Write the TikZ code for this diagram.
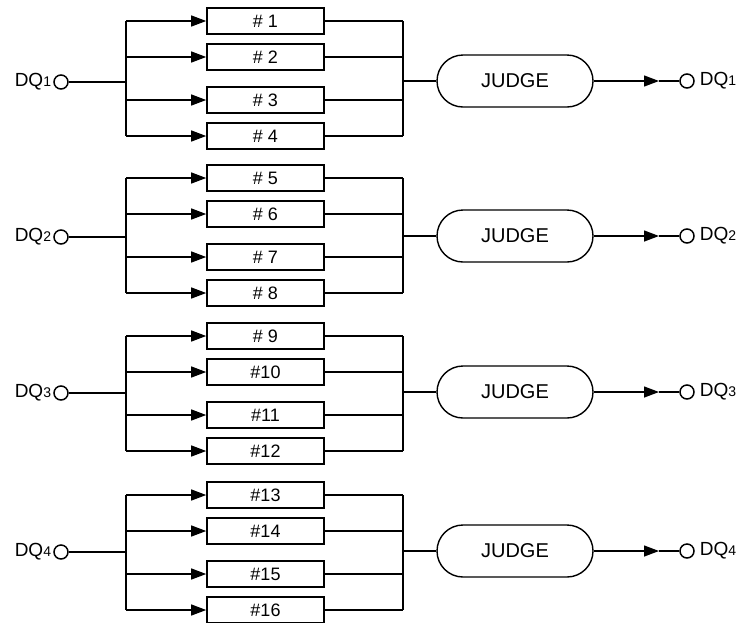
\documentclass[tikz,border=0pt]{standalone}
\usepackage{fontspec}
\setmainfont{Liberation Sans}
\usetikzlibrary{arrows.meta,shapes.misc}
\tikzset{
  unitbox/.style={draw, line width=1.6pt, minimum width=117pt, minimum height=26pt, inner sep=0pt, font=\fontsize{18}{18}\selectfont},
  judgebox/.style={draw, rounded rectangle, line width=1.4pt, minimum width=156pt, minimum height=52pt, inner sep=0pt, font=\fontsize{20}{20}\selectfont},
  port/.style={draw, circle, line width=1.5pt, minimum size=14pt, inner sep=0pt},
  wire/.style={line width=1.3pt},
  tipped/.style={-{Triangle[length=15pt,width=11pt]}},
  dqtext/.style={inner sep=0pt, font=\fontsize{19}{19}\selectfont},
}
\newcommand{\dqlabel}[1]{DQ{\fontsize{14}{14}\selectfont #1}}
\begin{document}
\begin{tikzpicture}[x=1pt,y=-1pt]
\useasboundingbox (0,0) rectangle (749,622);
\foreach \g/\top/\dq in {1/21/82, 2/178/237, 3/336/393, 4/495/552} {
  % input port
  \node[port] (ci\g) at (61,\dq) {};
  \node[dqtext, anchor=east] (li\g) at ([xshift=-2pt]ci\g.west) {\dqlabel{\g}};
  \coordinate (sp\g) at (126,\dq);
  \draw[wire] (ci\g) -- (sp\g);
  % boxes
  \foreach \k/\off in {1/0,2/36,3/79,4/115} {
    \pgfmathtruncatemacro\n{4*(\g-1)+\k}
    \pgfmathsetmacro\yy{\top+\off}
    \node[unitbox] (b\n) at (265.5,\yy) {\ifnum\n<10 \# \n\else\#\n\fi};
    \coordinate (la\n) at (126,\yy);
    \coordinate (ra\n) at (403,\yy);
    \draw[wire,tipped] (la\n) -- (b\n.west);
    \draw[wire] (b\n.east) -- (ra\n);
  }
  \pgfmathtruncatemacro\first{4*(\g-1)+1}
  \pgfmathtruncatemacro\last{4*(\g-1)+4}
  \draw[wire] (la\first) -- (la\last);
  \draw[wire] (ra\first) -- (ra\last);
  % judge
  \pgfmathsetmacro\jy{\dq-1}
  \node[judgebox] (j\g) at (515,\jy) {JUDGE};
  \coordinate (jp\g) at (403,\jy);
  \draw[wire] (jp\g) -- (j\g.west);
  \coordinate (ah\g) at (659,\jy);
  \node[port] (co\g) at (687,\jy) {};
  \draw[wire,tipped] (j\g.east) -- (ah\g);
  \draw[wire] (ah\g) -- (co\g.west);
  \node[dqtext, anchor=west] (lo\g) at ([xshift=5pt]co\g.east) {\dqlabel{\g}};
}
\end{tikzpicture}
\end{document}
